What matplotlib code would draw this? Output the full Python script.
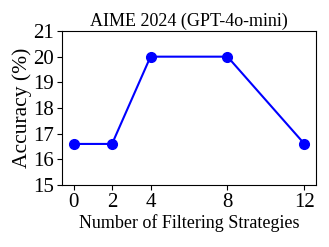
import matplotlib
matplotlib.use("Agg")
import matplotlib.pyplot as plt

plt.rcParams['font.family'] = ['Liberation Serif', 'DejaVu Serif']
plt.rcParams['mathtext.fontset'] = 'stix'

strategies = [0, 2, 4, 8, 12]
accuracy = [16.6, 16.6, 20.0, 20.0, 16.6]
yticks = [15, 16, 17, 18, 19, 20, 21]

fig = plt.figure(figsize=(3.29, 2.47), dpi=100)
ax = fig.add_axes([62/329, 1 - 185/247, (316-62)/329, (185-31)/247])
ax.plot(strategies, accuracy, color='blue', marker='o', markersize=7, linewidth=1.5)
ax.set_xticks(strategies)
ax.set_yticks(yticks)
ax.set_ylim(15, 21)
ax.set_xlim(-0.6, 12.6)
ax.tick_params(labelsize=15, pad=2)
ax.set_xlabel('Number of Filtering Strategies', fontsize=13, labelpad=2)
ax.set_ylabel('Accuracy (%)', fontsize=15.5, labelpad=1)
ax.set_title('AIME 2024 (GPT-4o-mini)', fontsize=13, pad=4)
fig.savefig('out.png', dpi=100)
